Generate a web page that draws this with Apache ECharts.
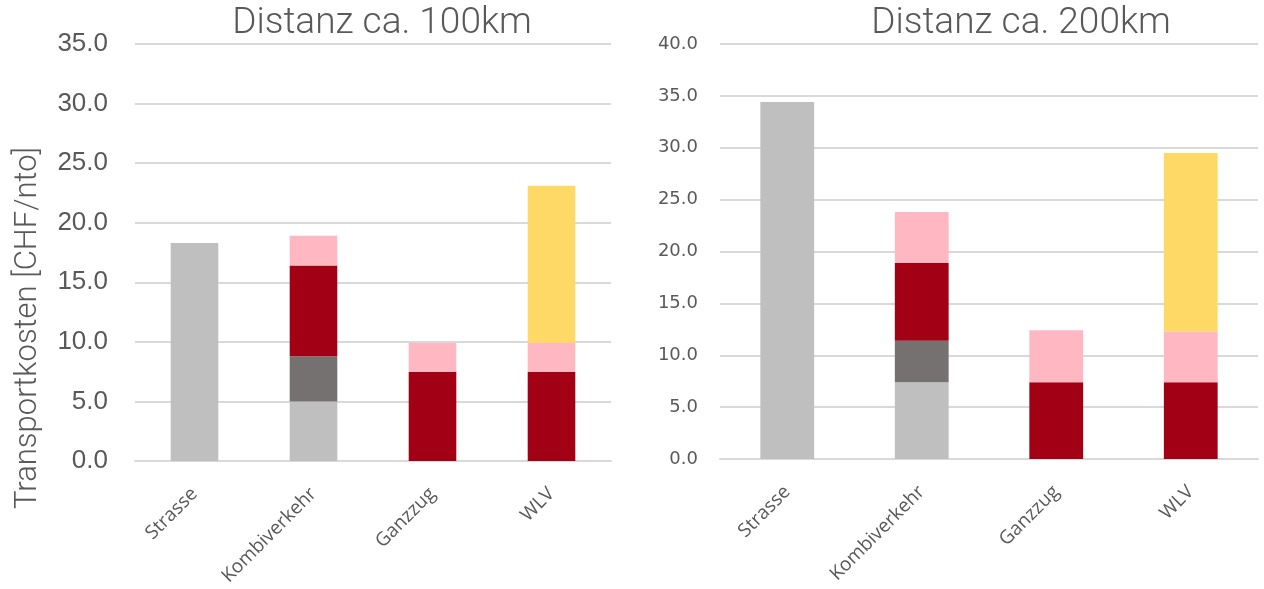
<!DOCTYPE html>
<html>
<head>
<meta charset="utf-8">
<script src="https://cdn.jsdelivr.net/npm/echarts@6/dist/echarts.min.js"></script>
<style>
  html, body { margin: 0; padding: 0; background: #fff; }
  #chart { width: 1264px; height: 589px; }
</style>
</head>
<body>
<div id="chart"></div>
<script>
const categories = ["Strasse", "Kombiverkehr", "Ganzzug", "WLV"]

// Distanz ca. 100km (Segmente von unten nach oben)
const left_hellgrau = [18.3, 5.0, null, null]
const left_dunkelgrau = [null, 3.8, null, null]
const left_rot = [null, 7.6, 7.5, 7.5]
const left_rosa = [null, 2.5, 2.4, 2.4]
const left_gelb = [null, null, null, 13.2]

// Distanz ca. 200km
const right_hellgrau = [34.4, 7.4, null, null]
const right_dunkelgrau = [null, 4.0, null, null]
const right_rot = [null, 7.5, 7.4, 7.4]
const right_rosa = [null, 4.9, 5.0, 4.9]
const right_gelb = [null, null, null, 17.2]

const colors = {
  hellgrau: "#bfbfbf",
  dunkelgrau: "#767171",
  rot: "#a20015",
  rosa: "#ffb7c1",
  gelb: "#ffd966",
}

const textColor = "#595959"
const gridColor = "#d9d9d9"

const chart = echarts.init(document.getElementById("chart"))

function stackSeries(idx, stackName, parts) {
  return parts.map(([key, data]) => ({
    name: key,
    type: "bar",
    stack: stackName,
    xAxisIndex: idx,
    yAxisIndex: idx,
    barWidth: "40%",
    data: data,
    itemStyle: { color: colors[key] },
  }))
}

function xAxis(gridIndex, fontSize) {
  return {
    type: "category",
    gridIndex,
    data: categories,
    axisLine: { lineStyle: { color: gridColor, width: 2 } },
    axisTick: { show: false },
    axisLabel: {
      rotate: 45,
      margin: 30,
      color: textColor,
      fontSize,
      fontFamily: "Open Sans",
      interval: 0,
    },
  }
}

const option = {
  backgroundColor: "#fff",
  animation: false,
  title: [
    {
      text: "Distanz ca. 100km",
      left: 377,
      top: 0,
      textAlign: "center",
      textStyle: { color: textColor, fontSize: 37, fontWeight: 300, fontFamily: "Roboto" },
    },
    {
      text: "Distanz ca. 200km",
      left: 1016,
      top: 0,
      textAlign: "center",
      textStyle: { color: textColor, fontSize: 37, fontWeight: 300, fontFamily: "Roboto" },
    },
  ],
  graphic: [
    {
      type: "text",
      x: 28,
      y: 328,
      rotation: Math.PI / 2,
      style: {
        text: "Transportkosten [CHF/nto]",
        fill: textColor,
        font: "300 31px Roboto",
        textAlign: "center",
        textVerticalAlign: "middle",
      },
    },
  ],
  grid: [
    { left: 135, right: 653, top: 44, bottom: 128 },
    { left: 720, right: 6, top: 44, bottom: 130 },
  ],
  xAxis: [xAxis(0, 19), xAxis(1, 19)],
  yAxis: [
    {
      type: "value",
      gridIndex: 0,
      min: 0,
      max: 35,
      interval: 5,
      axisLine: { show: false },
      axisTick: { show: false },
      splitLine: { lineStyle: { color: gridColor, width: 2 } },
      axisLabel: {
        margin: 27,
        color: textColor,
        fontSize: 26,
        fontFamily: "Liberation Sans",
        formatter: (v) => v.toFixed(1),
      },
    },
    {
      type: "value",
      gridIndex: 1,
      min: 0,
      max: 40,
      interval: 5,
      axisLine: { show: false },
      axisTick: { show: false },
      splitLine: { lineStyle: { color: gridColor, width: 2 } },
      axisLabel: {
        margin: 22,
        color: textColor,
        fontSize: 18,
        fontFamily: "DejaVu Sans",
        formatter: (v) => v.toFixed(1),
      },
    },
  ],
  series: [
    ...stackSeries(0, "links", [
      ["hellgrau", left_hellgrau],
      ["dunkelgrau", left_dunkelgrau],
      ["rot", left_rot],
      ["rosa", left_rosa],
      ["gelb", left_gelb],
    ]),
    ...stackSeries(1, "rechts", [
      ["hellgrau", right_hellgrau],
      ["dunkelgrau", right_dunkelgrau],
      ["rot", right_rot],
      ["rosa", right_rosa],
      ["gelb", right_gelb],
    ]),
  ],
}

chart.setOption(option)
</script>
</body>
</html>
